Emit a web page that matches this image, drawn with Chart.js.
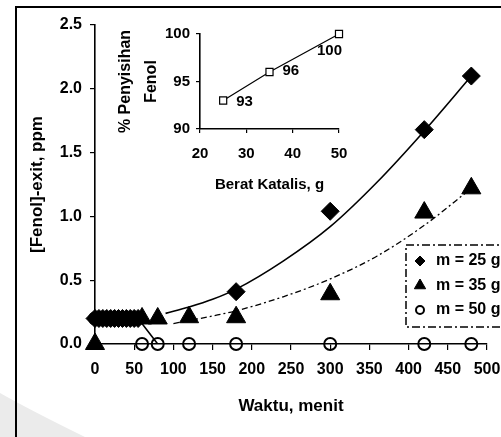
<!DOCTYPE html>
<html>
<head>
<meta charset="utf-8">
<script src="https://cdn.jsdelivr.net/npm/chart.js@4.4.1/dist/chart.umd.min.js"></script>
<style>
html, body { margin: 0; padding: 0; background: #fff; }
#wrap { position: relative; width: 501px; height: 437px; }
#wrap canvas { position: absolute; left: 0; top: 0; }
</style>
</head>
<body>
<div id="wrap">
<canvas id="mainChart" width="501" height="437"></canvas>
<canvas id="insetChart" width="501" height="437"></canvas>
</div>
<script>
Chart.defaults.font.family = 'Liberation Sans';
Chart.defaults.font.weight = 'bold';
Chart.defaults.color = '#000';

// main plot: fenol at exit vs time
const times25 = [0, 5, 10, 15, 20, 25, 30, 35, 40, 45, 50, 55, 180, 300, 420, 480];
const fenol25 = [0.2, 0.2, 0.2, 0.2, 0.2, 0.2, 0.2, 0.2, 0.2, 0.2, 0.2, 0.2, 0.41, 1.04, 1.68, 2.10];
const times35 = [0, 60, 80, 120, 180, 300, 420, 480];
const fenol35 = [0, 0.2, 0.2, 0.21, 0.21, 0.39, 1.03, 1.22];
const times50 = [0, 15, 30, 45, 60, 80, 120, 180, 300, 420, 480];
const fenol50 = [0.2, 0.2, 0.2, 0.2, 0, 0, 0, 0, 0, 0, 0];

// trend lines
const fitTimes25 = [90, 120, 150, 180, 240, 300, 360, 420, 480];
const fit25 = [0.24, 0.29, 0.35, 0.43, 0.65, 0.92, 1.27, 1.67, 2.10];
const fitTimes35 = [100, 150, 180, 240, 300, 360, 420, 480];
const fit35 = [0.16, 0.22, 0.26, 0.37, 0.51, 0.69, 0.93, 1.22];
const fitTimes50 = [0, 55, 80, 480];
const fit50 = [0.2, 0.2, 0, 0];

const legendLabels = ['m = 25 g', 'm = 35 g', 'm = 50 g'];

// inset: removal vs catalyst mass
const massKatalis = [25, 35, 50];
const penyisihan = [93, 96, 100];

const toXY = (xs, ys) => xs.map((x, i) => ({x: x, y: ys[i]}));

const framePlugin = {
    id: 'frame',
    beforeDraw(chart) {
        const ctx = chart.ctx;
        ctx.save();
        ctx.fillStyle = '#fff';
        ctx.fillRect(0, 0, chart.width, chart.height);
        // grey smudge bottom left of the scan
        ctx.fillStyle = '#ebebeb';
        ctx.beginPath();
        ctx.moveTo(0, 393);
        ctx.quadraticCurveTo(30, 410, 85, 437);
        ctx.lineTo(0, 437);
        ctx.closePath();
        ctx.fill();
        ctx.strokeStyle = '#000';
        ctx.lineWidth = 2;
        ctx.beginPath();
        ctx.moveTo(16, 437);
        ctx.lineTo(16, 7);
        ctx.lineTo(501, 7);
        ctx.stroke();
        ctx.restore();
    }
};

const legendPlugin = {
    id: 'boxLegend',
    afterDatasetsDraw(chart) {
        const ctx = chart.ctx;
        ctx.save();
        ctx.fillStyle = '#fff';
        ctx.fillRect(406, 245, 110, 82);
        ctx.strokeStyle = '#000';
        ctx.lineWidth = 1.5;
        ctx.setLineDash([8, 3, 2, 3]);
        ctx.strokeRect(406, 245, 110, 82);
        ctx.setLineDash([]);
        const sizes = [5, 6.5, 4];
        ctx.font = 'bold 16px "Liberation Sans"';
        ctx.textBaseline = 'middle';
        legendLabels.forEach((label, i) => {
            const ds = chart.data.datasets[i];
            const y = 261 + i * 24.5;
            ctx.fillStyle = ds.backgroundColor;
            ctx.strokeStyle = ds.borderColor;
            ctx.lineWidth = ds.borderWidth;
            Chart.helpers.drawPoint(ctx, {pointStyle: ds.pointStyle, radius: sizes[i], borderWidth: ds.borderWidth}, 420, y);
            ctx.fillStyle = '#000';
            ctx.fillText(label, 436, y);
        });
        ctx.restore();
    }
};

new Chart(document.getElementById('mainChart'), {
    type: 'scatter',
    data: {
        datasets: [{
            label: legendLabels[0],
            data: toXY(times25, fenol25),
            pointStyle: 'rectRot',
            pointRadius: 9,
            backgroundColor: '#000',
            borderColor: '#000',
            borderWidth: 1,
            clip: false
        }, {
            label: legendLabels[1],
            data: toXY(times35, fenol35),
            pointStyle: 'triangle',
            pointRadius: 11,
            backgroundColor: '#000',
            borderColor: '#000',
            borderWidth: 1,
            clip: false
        }, {
            label: legendLabels[2],
            data: toXY(times50, fenol50),
            pointStyle: 'circle',
            pointRadius: 6,
            backgroundColor: 'rgba(0,0,0,0)',
            borderColor: '#000',
            borderWidth: 2,
            clip: false
        }, {
            data: toXY(fitTimes25, fit25),
            showLine: true,
            pointRadius: 0,
            borderColor: '#000',
            borderWidth: 1.6,
            cubicInterpolationMode: 'monotone'
        }, {
            data: toXY(fitTimes35, fit35),
            showLine: true,
            pointRadius: 0,
            borderColor: '#000',
            borderWidth: 1.3,
            borderDash: [6, 3, 2, 3],
            cubicInterpolationMode: 'monotone'
        }, {
            data: toXY(fitTimes50, fit50),
            showLine: true,
            pointRadius: 0,
            borderColor: '#000',
            borderWidth: 1.6
        }]
    },
    options: {
        responsive: false,
        animation: false,
        layout: { padding: { left: 14, right: 14, top: 25, bottom: 0 } },
        plugins: { legend: { display: false }, tooltip: { enabled: false } },
        scales: {
            x: {
                type: 'linear',
                min: 0,
                max: 500,
                afterFit(s) { s.height = 93; s.paddingLeft = 0; s.paddingRight = 0; },
                ticks: { stepSize: 50, padding: 10, font: { size: 16 } },
                grid: { drawOnChartArea: false, tickLength: 6, color: '#000', lineWidth: 1.2 },
                border: { color: '#000', width: 1.6 },
                title: { display: true, text: 'Waktu, menit', font: { size: 17 }, padding: { bottom: 20 } }
            },
            y: {
                min: 0,
                max: 2.5,
                afterFit(s) { s.width = 81; },
                ticks: { stepSize: 0.5, padding: 8, font: { size: 16 }, callback: v => v.toFixed(1) },
                grid: { drawOnChartArea: false, tickLength: 5, color: '#000', lineWidth: 1.2 },
                border: { color: '#000', width: 1.6 },
                title: { display: true, text: '[Fenol]-exit, ppm', font: { size: 17 }, padding: { top: 13 } }
            }
        }
    },
    plugins: [framePlugin, legendPlugin]
});

const labelOffsets = [[13, 1], [13, -1], [-22, 17]];
const pointLabelPlugin = {
    id: 'pointLabels',
    afterDatasetsDraw(chart) {
        const ctx = chart.ctx;
        const meta = chart.getDatasetMeta(0);
        ctx.save();
        ctx.font = 'bold 15px "Liberation Sans"';
        ctx.fillStyle = '#000';
        ctx.textBaseline = 'middle';
        meta.data.forEach((pt, i) => {
            ctx.fillText(String(penyisihan[i]), pt.x + labelOffsets[i][0], pt.y + labelOffsets[i][1]);
        });
        ctx.restore();
    }
};

new Chart(document.getElementById('insetChart'), {
    type: 'scatter',
    data: {
        datasets: [{
            data: toXY(massKatalis, penyisihan),
            showLine: true,
            pointStyle: 'rect',
            pointRadius: 5,
            backgroundColor: '#fff',
            borderColor: '#000',
            borderWidth: 1.2,
            clip: false
        }]
    },
    options: {
        responsive: false,
        animation: false,
        layout: { padding: { left: 110, right: 162, top: 34, bottom: 237 } },
        plugins: { legend: { display: false }, tooltip: { enabled: false } },
        scales: {
            x: {
                type: 'linear',
                min: 20,
                max: 50,
                afterFit(s) { s.height = 71; },
                ticks: { stepSize: 10, padding: 12, font: { size: 15 } },
                grid: { drawOnChartArea: false, tickLength: 4, color: '#000', lineWidth: 1.2 },
                border: { color: '#000', width: 1.6 },
                title: { display: true, text: 'Berat Katalis, g', font: { size: 15 }, padding: { bottom: 6 } }
            },
            y: {
                min: 90,
                max: 100,
                afterFit(s) { s.width = 90; },
                ticks: { stepSize: 5, padding: 6, font: { size: 15 } },
                grid: { drawOnChartArea: false, tickLength: 4, color: '#000', lineWidth: 1.2 },
                border: { color: '#000', width: 1.6 },
                title: { display: true, text: ['% Penyisihan', 'Fenol'], font: { size: 16, lineHeight: 1.6 }, padding: { top: 3 } }
            }
        }
    },
    plugins: [pointLabelPlugin]
});
</script>
</body>
</html>
